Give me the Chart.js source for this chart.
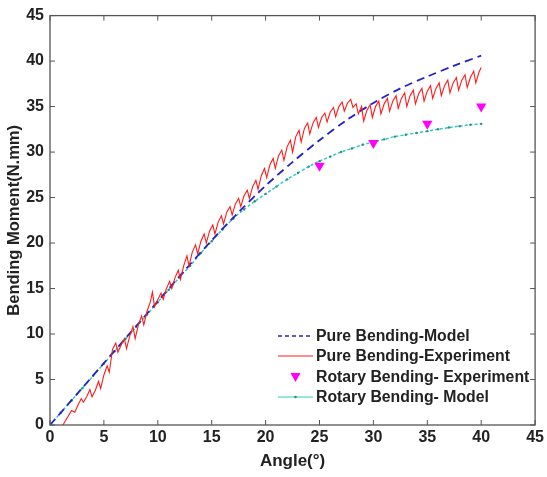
<!DOCTYPE html>
<html>
<head>
<meta charset="utf-8">
<script src="https://cdn.jsdelivr.net/npm/chart.js@4/dist/chart.umd.min.js"></script>
<style>
  html, body { margin: 0; padding: 0; background: #fff; }
  #wrap { width: 547px; height: 477px; position: relative; }
</style>
</head>
<body>
<div id="wrap"><canvas id="chart"></canvas></div>
<script>
// Pure bending model (blue dashed)
const modelAngle = [0, 2.5, 5, 7.5, 10, 12.5, 15, 17.5, 20, 22.5, 25, 27.5, 30, 32.5, 35, 37.5, 40];
const modelMoment = [0, 3.4, 6.8, 10.2, 13.6, 17.0, 20.3, 23.4, 26.3, 28.9, 31.3, 33.5, 35.4, 37.0, 38.3, 39.5, 40.6];

// Pure bending experiment (red)
const expAngle = [
  1.2, 1.6, 2.0, 2.3, 2.6, 2.9, 3.1, 3.4, 3.7, 3.9, 4.2, 4.5, 4.7, 5.0, 5.3, 5.5, 5.8, 6.1, 6.3, 6.6,
  6.9, 7.1, 7.4, 7.7, 7.9, 8.2, 8.5, 8.7, 9.0, 9.3, 9.5, 9.7, 10.0, 10.3, 10.5, 10.8, 11.1, 11.3, 11.6, 11.9,
  12.1, 12.4, 12.7, 12.9, 13.2, 13.5, 13.7, 14.0, 14.3, 14.5, 14.8, 15.1, 15.3, 15.6, 15.9, 16.1, 16.4, 16.7, 16.9, 17.2,
  17.5, 17.7, 18.0, 18.3, 18.5, 18.8, 19.1, 19.3, 19.6, 19.9, 20.1, 20.4, 20.7, 20.9, 21.2, 21.5, 21.7, 22.0, 22.3, 22.5,
  22.8, 23.1, 23.3, 23.6, 23.9, 24.1, 24.4, 24.7, 24.9, 25.2, 25.5, 25.7, 26.0, 26.3, 26.5, 26.8, 27.1, 27.3, 27.6, 27.9,
  28.1, 28.4, 28.6, 28.9, 29.1, 29.4, 29.7, 29.9, 30.2, 30.5, 30.7, 31.0, 31.3, 31.5, 31.8, 32.1, 32.3, 32.6, 32.9, 33.1,
  33.4, 33.7, 33.9, 34.2, 34.5, 34.7, 35.0, 35.3, 35.5, 35.8, 36.1, 36.3, 36.6, 36.9, 37.1, 37.4, 37.7, 37.9, 38.2, 38.5,
  38.7, 39.0, 39.3, 39.5, 39.8, 40.0
];
const expMoment = [
  0.0, 0.8, 1.6, 1.4, 2.2, 2.9, 2.5, 3.1, 3.9, 3.1, 3.8, 4.8, 4.0, 5.5, 6.5, 5.8, 8.3, 9.0, 8.0, 8.8,
  9.5, 8.4, 9.8, 10.8, 9.5, 11.0, 12.0, 11.0, 12.5, 13.5, 14.6, 13.0, 13.8, 14.5, 13.8, 15.0, 15.8, 15.0, 16.2, 17.0,
  16.0, 17.5, 18.6, 17.5, 19.0, 19.8, 18.8, 20.2, 21.0, 20.0, 21.3, 22.0, 21.0, 22.3, 23.0, 22.1, 23.4, 24.0, 23.1, 24.3,
  24.9, 24.0, 25.2, 25.8, 24.9, 26.2, 26.9, 25.9, 27.4, 28.2, 27.2, 28.6, 29.3, 28.2, 29.6, 30.2, 29.1, 30.6, 31.3, 30.0,
  31.7, 32.4, 31.1, 32.6, 33.2, 32.0, 33.2, 33.8, 32.7, 33.8, 34.3, 33.3, 34.4, 34.9, 33.9, 35.0, 35.5, 34.5, 35.4, 35.8,
  34.9, 35.3, 34.2, 35.0, 33.4, 34.6, 35.2, 33.8, 35.0, 35.6, 34.2, 35.3, 35.9, 34.5, 35.6, 36.2, 34.8, 35.9, 36.5, 35.0,
  36.2, 36.8, 35.3, 36.4, 37.0, 35.6, 36.7, 37.3, 35.9, 37.0, 37.6, 36.2, 37.3, 37.9, 36.5, 37.6, 38.2, 36.8, 37.9, 38.5,
  37.1, 38.2, 38.9, 37.6, 38.8, 39.3
];

// Rotary bending experiment (magenta triangles)
const rotExpAngle = [25, 30, 35, 40];
const rotExpMoment = [28.5, 31.0, 33.1, 35.0];

// Rotary bending model (cyan)
const rotModelAngle = [0, 1, 2, 3, 4, 5, 6, 7, 8, 9, 10, 11, 12, 13, 14, 15, 16, 17, 18, 19, 20,
  21, 22, 23, 24, 25, 26, 27, 28, 29, 30, 31, 32, 33, 34, 35, 36, 37, 38, 39, 40];
const rotModelMoment = [0, 1.35, 2.7, 4.05, 5.4, 6.75, 8.1, 9.45, 10.8, 12.15, 13.5, 14.85, 16.2, 17.5, 18.9, 20.2, 21.5, 22.7, 23.7, 24.6, 25.4,
  26.2, 27.0, 27.7, 28.4, 29.0, 29.5, 30.0, 30.4, 30.8, 31.1, 31.4, 31.7, 31.9, 32.1, 32.3, 32.5, 32.7, 32.85, 33.0, 33.1];

const xTicks = [0, 5, 10, 15, 20, 25, 30, 35, 40, 45];
const yTicks = [0, 5, 10, 15, 20, 25, 30, 35, 40, 45];

const labels = ['Pure Bending-Model', 'Pure Bending-Experiment', 'Rotary Bending- Experiment', 'Rotary Bending- Model'];

const pts = (xs, ys) => xs.map((x, i) => ({ x, y: ys[i] }));

const BLUE = '#2222cc';
const RED = '#ff1a1a';
const MAGENTA = '#ff00ff';
const CYAN = '#33c9c4';
const TEAL = '#2a8f8a';

// frame + inward ticks on all four sides
const framePlugin = {
  id: 'frame',
  afterDraw(chart) {
    const { ctx, chartArea: a, scales } = chart;
    ctx.save();
    ctx.strokeStyle = '#555';
    ctx.lineWidth = 1.3;
    ctx.strokeRect(a.left, a.top, a.right - a.left, a.bottom - a.top);
    ctx.lineWidth = 1;
    xTicks.forEach(v => {
      const px = scales.x.getPixelForValue(v);
      ctx.beginPath();
      ctx.moveTo(px, a.bottom); ctx.lineTo(px, a.bottom - 5);
      ctx.moveTo(px, a.top); ctx.lineTo(px, a.top + 5);
      ctx.stroke();
    });
    yTicks.forEach(v => {
      const py = scales.y.getPixelForValue(v);
      ctx.beginPath();
      ctx.moveTo(a.left, py); ctx.lineTo(a.left + 5, py);
      ctx.moveTo(a.right, py); ctx.lineTo(a.right - 5, py);
      ctx.stroke();
    });
    ctx.restore();
  }
};

// legend inside the plot, lower right
const legendPlugin = {
  id: 'inLegend',
  afterDraw(chart) {
    const { ctx } = chart;
    const x0 = 278, x1 = 313, tx = 316;
    const rows = [336, 356, 377, 397];
    ctx.save();
    ctx.font = 'bold 15.8px "Liberation Sans", Arial, sans-serif';
    ctx.textBaseline = 'middle';
    ctx.fillStyle = '#222';
    labels.forEach((t, i) => ctx.fillText(t, tx, rows[i] + 1));

    ctx.lineWidth = 1.6;
    ctx.strokeStyle = BLUE;
    ctx.setLineDash([4, 3]);
    ctx.beginPath(); ctx.moveTo(x0, rows[0]); ctx.lineTo(x1, rows[0]); ctx.stroke();
    ctx.setLineDash([]);

    ctx.lineWidth = 1.2;
    ctx.strokeStyle = RED;
    ctx.beginPath(); ctx.moveTo(x0, rows[1]); ctx.lineTo(x1, rows[1]); ctx.stroke();

    const cx = (x0 + x1) / 2;
    ctx.fillStyle = MAGENTA;
    ctx.beginPath();
    ctx.moveTo(cx - 5, rows[2] - 4); ctx.lineTo(cx + 5, rows[2] - 4); ctx.lineTo(cx, rows[2] + 5);
    ctx.closePath(); ctx.fill();

    ctx.lineWidth = 1.2;
    ctx.strokeStyle = CYAN;
    ctx.beginPath(); ctx.moveTo(x0, rows[3]); ctx.lineTo(x1, rows[3]); ctx.stroke();
    ctx.fillStyle = TEAL;
    ctx.beginPath(); ctx.arc(cx, rows[3], 1.3, 0, Math.PI * 2); ctx.fill();
    ctx.restore();
  }
};

const tickFont = { family: '"Liberation Sans", Arial, sans-serif', size: 16, weight: 'bold' };
const xTitleFont = { family: '"Liberation Sans", Arial, sans-serif', size: 17, weight: 'bold' };
const yTitleFont = { family: '"Liberation Sans", Arial, sans-serif', size: 16.5, weight: 'bold' };

new Chart(document.getElementById('chart'), {
  type: 'scatter',
  data: {
    datasets: [
      {
        label: labels[3],
        data: pts(rotModelAngle, rotModelMoment),
        showLine: true,
        borderColor: CYAN,
        borderWidth: 1.5,
        borderDash: [3, 2],
        pointRadius: 1.2,
        pointBackgroundColor: TEAL,
        pointBorderWidth: 0,
        tension: 0.3,
        order: 4
      },
      {
        label: labels[0],
        data: pts(modelAngle, modelMoment),
        showLine: true,
        borderColor: BLUE,
        borderWidth: 1.8,
        borderDash: [8, 5],
        pointRadius: 0,
        tension: 0.3,
        order: 3
      },
      {
        label: labels[1],
        data: pts(expAngle, expMoment),
        showLine: true,
        borderColor: RED,
        borderWidth: 1.1,
        pointRadius: 0,
        tension: 0,
        order: 2
      },
      {
        label: labels[2],
        data: pts(rotExpAngle, rotExpMoment),
        showLine: false,
        pointStyle: 'triangle',
        rotation: 180,
        pointRadius: 6,
        backgroundColor: MAGENTA,
        borderColor: MAGENTA,
        borderWidth: 0,
        order: 1
      }
    ]
  },
  options: {
    responsive: true,
    maintainAspectRatio: false,
    animation: false,
    layout: { padding: { top: 11, right: 10, left: 0, bottom: 0 } },
    plugins: {
      legend: { display: false },
      tooltip: { enabled: false }
    },
    scales: {
      x: {
        type: 'linear',
        min: 0, max: 45,
        afterBuildTicks: s => { s.ticks = xTicks.map(v => ({ value: v })); },
        afterFit: s => { s.height = 52; },
        grid: { display: false, drawTicks: false },
        border: { display: false },
        ticks: { color: '#222', font: tickFont, padding: 3, maxRotation: 0 },
        title: { display: true, text: 'Angle(°)', color: '#222', font: xTitleFont, padding: { top: 0, bottom: 5 } }
      },
      y: {
        type: 'linear',
        min: 0, max: 45,
        afterBuildTicks: s => { s.ticks = yTicks.map(v => ({ value: v })); },
        afterFit: s => { s.width = 50; },
        grid: { display: false, drawTicks: false },
        border: { display: false },
        ticks: { color: '#222', font: tickFont, padding: 6 },
        title: { display: true, text: 'Bending Moment(N.mm)', color: '#222', font: yTitleFont, padding: { top: 5, bottom: 0 } }
      }
    }
  },
  plugins: [framePlugin, legendPlugin]
});
</script>
</body>
</html>
